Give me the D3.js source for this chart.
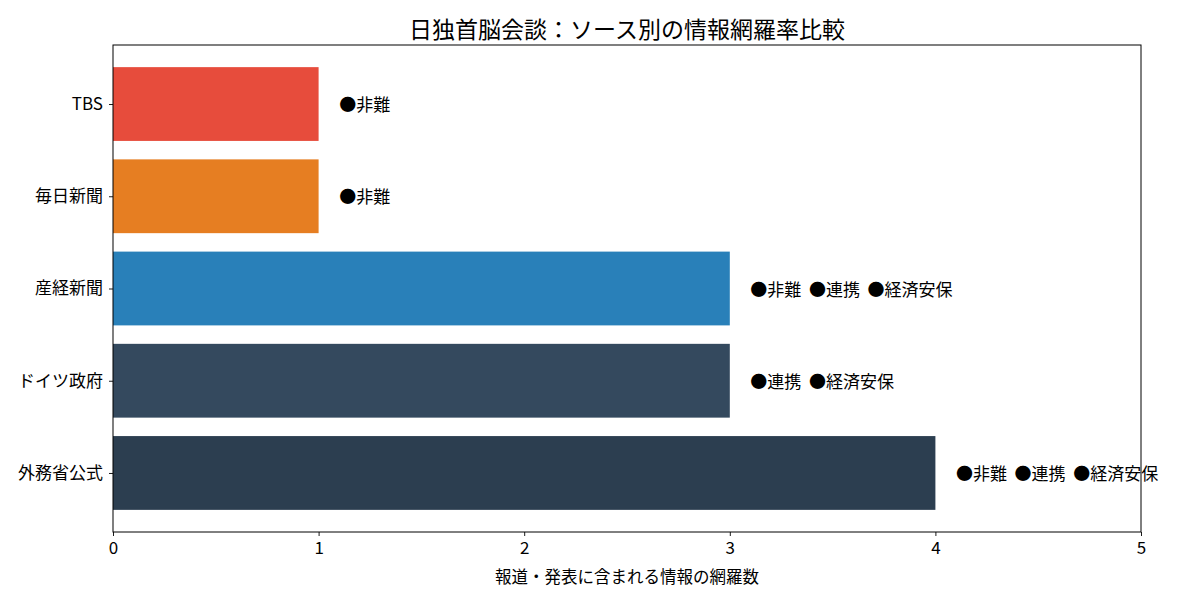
<!DOCTYPE html>
<html>
<head>
<meta charset="utf-8">
<script src="https://cdn.jsdelivr.net/npm/d3@7"></script>
<style>
  html, body { margin: 0; padding: 0; background: #fff; }
  svg { display: block; }
  text { font-family: "Noto Sans CJK JP", "Noto Sans", sans-serif; fill: #000; }
</style>
</head>
<body>
<svg id="chart" width="1200" height="600"></svg>
<script>
const categories = ["外務省公式", "ドイツ政府", "産経新聞", "毎日新聞", "TBS"];
const counts = [4, 3, 3, 1, 1];
const colors = ["#2c3e50", "#34495e", "#2980b9", "#e67e22", "#e74c3c"];
const annotations = [
  "●非難  ●連携  ●経済安保",
  "●連携  ●経済安保",
  "●非難  ●連携  ●経済安保",
  "●非難",
  "●非難"
];
const xTicks = [0, 1, 2, 3, 4, 5];
const titleText = "日独首脳会談：ソース別の情報網羅率比較";
const xLabel = "報道・発表に含まれる情報の網羅数";

const svg = d3.select("#chart");
const m = { left: 113, right: 1141, top: 45, bottom: 532 };
const mixFont = "'Noto Sans CJK JP', sans-serif";

const x = d3.scaleLinear().domain([0, 5]).range([m.left, m.right]);
// matplotlib-like: bars at 0..n-1 with height 0.8, 5% margins
const y = d3.scaleLinear().domain([-0.64, 4.64]).range([m.bottom, m.top]);
const barH = 0.8;

const data = categories.map((c, i) => ({ c, i, v: counts[i], col: colors[i], a: annotations[i] }));

// bars
svg.append("g").selectAll("rect").data(data).join("rect")
  .attr("x", x(0))
  .attr("y", d => y(d.i + barH / 2))
  .attr("width", d => x(d.v) - x(0))
  .attr("height", d => y(d.i - barH / 2) - y(d.i + barH / 2))
  .attr("fill", d => d.col);

// annotations
svg.append("g").selectAll("text").data(data).join("text")
  .attr("x", d => x(d.v + 0.1))
  .attr("y", d => y(d.i))
  .attr("dy", "0.42em")
  .attr("font-size", 17)
  .attr("xml:space", "preserve")
  .style("white-space", "pre")
  .text(d => d.a);

// x axis
const xAxis = d3.axisBottom(x).tickValues(xTicks).tickFormat(d3.format("d")).tickSizeOuter(0).tickSize(4).tickPadding(6);
const gx = svg.append("g").attr("transform", `translate(0,${m.bottom})`).call(xAxis);
gx.select(".domain").remove();
gx.selectAll("line").attr("stroke", "#000").attr("stroke-width", 0.9);
gx.selectAll("text").attr("font-size", 17).attr("font-family", mixFont);

// y axis
const yAxis = d3.axisLeft(y).tickValues(data.map(d => d.i)).tickFormat(i => categories[i]).tickSize(4).tickPadding(6);
const gy = svg.append("g").attr("transform", `translate(${m.left},0)`).call(yAxis);
gy.select(".domain").remove();
gy.selectAll("line").attr("stroke", "#000").attr("stroke-width", 0.9);
gy.selectAll("text").attr("font-size", 17).attr("font-family", mixFont);

// spines
svg.append("rect")
  .attr("x", m.left).attr("y", m.top)
  .attr("width", m.right - m.left).attr("height", m.bottom - m.top)
  .attr("fill", "none").attr("stroke", "#000").attr("stroke-width", 1);

// title
svg.append("text")
  .attr("x", (m.left + m.right) / 2).attr("y", 38)
  .attr("text-anchor", "middle").attr("font-size", 23)
  .text(titleText);

// x label
svg.append("text")
  .attr("x", (m.left + m.right) / 2).attr("y", 583)
  .attr("text-anchor", "middle").attr("font-size", 16.5)
  .text(xLabel);
</script>
</body>
</html>
